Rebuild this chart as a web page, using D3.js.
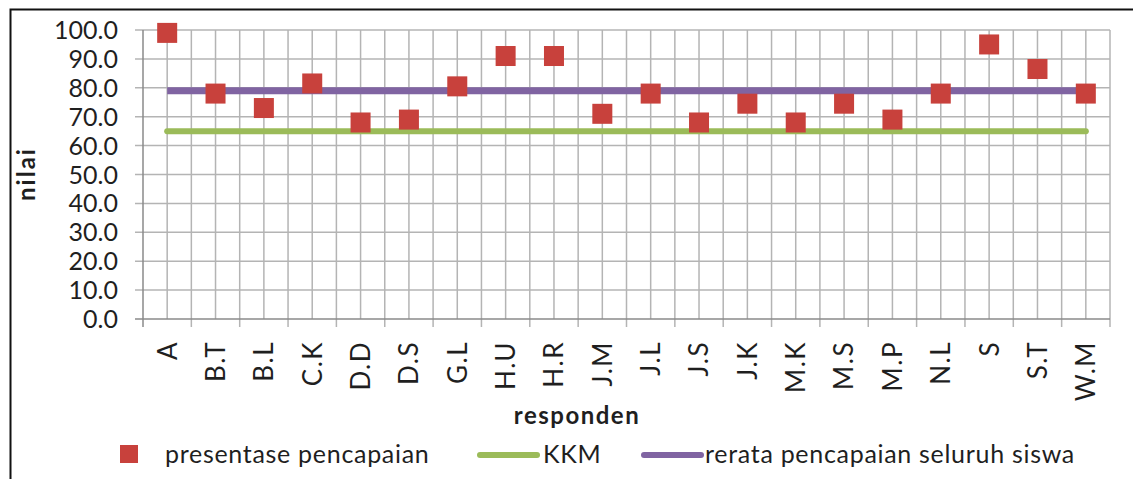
<!DOCTYPE html>
<html>
<head>
<meta charset="utf-8">
<script src="https://cdn.jsdelivr.net/npm/d3@7"></script>
<style>
  body { margin: 0; background: #fff; }
  svg { display: block; font-family: Lato, "Open Sans", sans-serif; }
</style>
</head>
<body>
<div id="chart"></div>
<script>
const categories = ['A', 'B.T', 'B.L', 'C.K', 'D.D', 'D.S', 'G.L', 'H.U', 'H.R', 'J.M',
  'J.L', 'J.S', 'J.K', 'M.K', 'M.S', 'M.P', 'N.L', 'S', 'S.T', 'W.M'];
const pencapaian = [99, 78, 73, 81.5, 68, 69, 80.5, 91, 91, 71,
  78, 68, 74.5, 68, 74.5, 69, 78, 95, 86.5, 78];
const kkm = categories.map(() => 65);
const rerata = categories.map(() => 79);
const yTicks = [0, 10, 20, 30, 40, 50, 60, 70, 80, 90, 100];

const width = 1135;
const height = 479;
const plotLeft = 143, plotRight = 1110, plotTop = 30, plotBottom = 319;
const textColor = '#1f1f1f';

const svg = d3.select('#chart')
  .append('svg')
    .attr('width', width)
    .attr('height', height);

// outer frame: only top and left edges are visible
svg.append('path')
  .attr('d', `M10.5,${height} V9.5 H1133`)
  .attr('fill', 'none')
  .attr('stroke', '#111')
  .attr('stroke-width', 2);

const x = d3.scaleBand()
  .domain(categories)
  .range([plotLeft, plotRight]);

const y = d3.scaleLinear()
  .domain([0, 100])
  .range([plotBottom, plotTop]);

const cx = d => x(d) + x.bandwidth() / 2;

const grid = svg.append('g').attr('stroke', '#b4b4b4').attr('stroke-width', 1.5);

// horizontal grid
grid.selectAll('line.h')
  .data(yTicks.slice(1))
  .enter()
    .append('line')
      .attr('x1', plotLeft - 8)
      .attr('x2', plotRight)
      .attr('y1', d => y(d))
      .attr('y2', d => y(d));

// vertical grid at category centres and boundaries
const bounds = categories.map(d => x(d)).concat([plotRight]);
grid.selectAll('line.vb')
  .data(bounds.slice(1))
  .enter()
    .append('line')
      .attr('x1', d => d)
      .attr('x2', d => d)
      .attr('y1', plotTop)
      .attr('y2', plotBottom + 8);

grid.selectAll('line.vc')
  .data(categories)
  .enter()
    .append('line')
      .attr('x1', cx)
      .attr('x2', cx)
      .attr('y1', plotTop)
      .attr('y2', plotBottom);

// axes
const axisG = svg.append('g').attr('stroke', '#8a8a8a').attr('stroke-width', 1.5);
axisG.append('line')
  .attr('x1', plotLeft).attr('x2', plotLeft)
  .attr('y1', plotTop).attr('y2', plotBottom + 8);
axisG.append('line')
  .attr('x1', plotLeft - 8).attr('x2', plotRight)
  .attr('y1', plotBottom).attr('y2', plotBottom);

// y tick labels
svg.append('g')
  .selectAll('text')
  .data(yTicks)
  .enter()
    .append('text')
      .attr('x', 118)
      .attr('y', d => y(d))
      .attr('dy', '0.36em')
      .attr('text-anchor', 'end')
      .attr('font-size', 25)
      .attr('fill', textColor)
      .text(d => d.toFixed(1));

// x tick labels
svg.append('g')
  .selectAll('text')
  .data(categories)
  .enter()
    .append('text')
      .attr('transform', d => `translate(${cx(d)},341) rotate(-90)`)
      .attr('dy', '0.36em')
      .attr('text-anchor', 'end')
      .attr('font-size', 26)
      .attr('letter-spacing', 1.5)
      .attr('fill', textColor)
      .text(d => d);

// axis titles
svg.append('text')
  .attr('transform', 'translate(35,174) rotate(-90)')
  .attr('text-anchor', 'middle')
  .attr('font-size', 24)
  .attr('font-weight', 'bold')
  .attr('letter-spacing', 2)
  .attr('fill', textColor)
  .text('nilai');

svg.append('text')
  .attr('x', 577)
  .attr('y', 424)
  .attr('text-anchor', 'middle')
  .attr('font-size', 24)
  .attr('font-weight', 'bold')
  .attr('letter-spacing', 1.5)
  .attr('fill', textColor)
  .text('responden');

// series lines
const line = d3.line()
  .x((d, i) => cx(categories[i]))
  .y(d => y(d));

svg.append('path')
  .datum(kkm)
  .attr('d', line)
  .attr('fill', 'none')
  .attr('stroke', '#9bbb59')
  .attr('stroke-width', 6)
  .attr('stroke-linecap', 'round');

svg.append('path')
  .datum(rerata)
  .attr('d', line)
  .attr('fill', 'none')
  .attr('stroke', '#8064a2')
  .attr('stroke-width', 7);

// markers
const size = 20;
svg.append('g')
  .selectAll('rect')
  .data(pencapaian)
  .enter()
    .append('rect')
      .attr('x', (d, i) => cx(categories[i]) - size / 2)
      .attr('y', d => y(d) - size / 2)
      .attr('width', size)
      .attr('height', size)
      .attr('fill', '#c8413c');

// legend
const legend = svg.append('g')
  .attr('font-size', 25)
  .attr('letter-spacing', 0.7)
  .attr('fill', textColor);
legend.append('rect')
  .attr('x', 120).attr('y', 445)
  .attr('width', 18).attr('height', 18)
  .attr('fill', '#c8413c');
legend.append('text')
  .attr('x', 165).attr('y', 454).attr('dy', '0.36em')
  .text('presentase pencapaian');

legend.append('line')
  .attr('x1', 480).attr('x2', 537)
  .attr('y1', 455).attr('y2', 455)
  .attr('stroke', '#9bbb59').attr('stroke-width', 6).attr('stroke-linecap', 'round');
legend.append('text')
  .attr('x', 543).attr('y', 454).attr('dy', '0.36em')
  .text('KKM');

legend.append('line')
  .attr('x1', 644).attr('x2', 701)
  .attr('y1', 455).attr('y2', 455)
  .attr('stroke', '#8064a2').attr('stroke-width', 6).attr('stroke-linecap', 'round');
legend.append('text')
  .attr('x', 705).attr('y', 454).attr('dy', '0.36em')
  .text('rerata pencapaian seluruh siswa');
</script>
</body>
</html>
